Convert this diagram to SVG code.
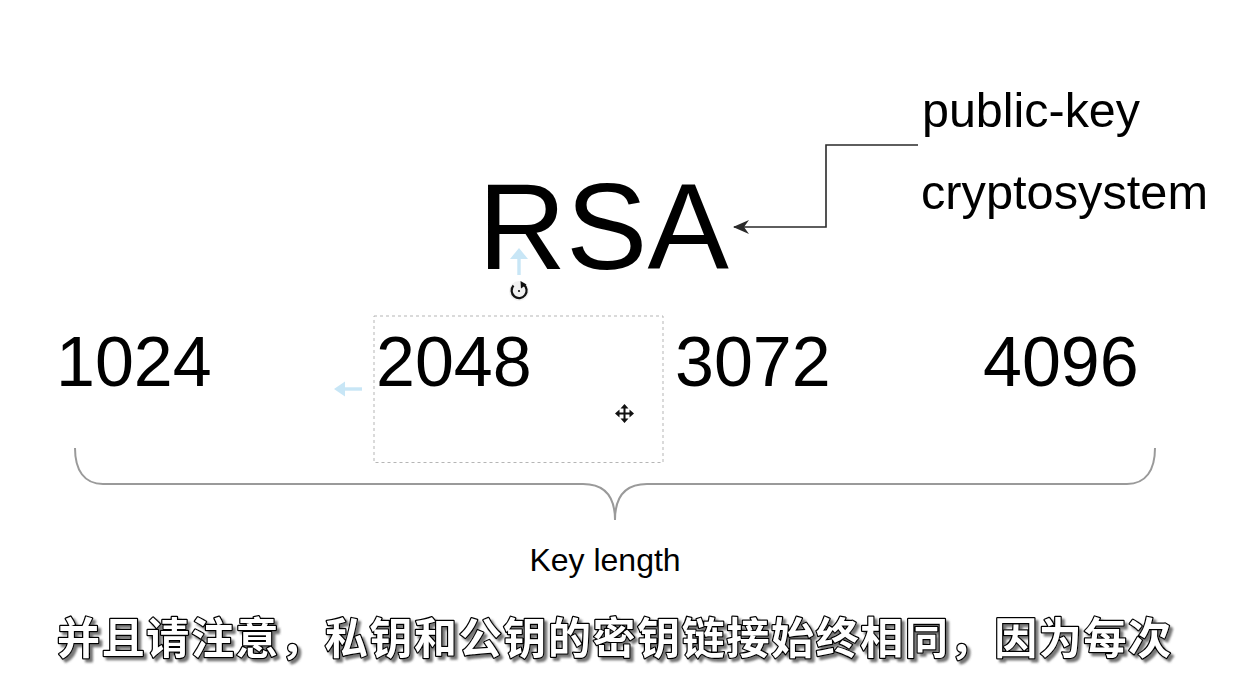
<svg xmlns="http://www.w3.org/2000/svg" width="1235" height="690" viewBox="0 0 1235 690">
  <style>
    .t { font-family: "Liberation Sans", Arial, Helvetica, sans-serif; fill: #000; }
    .num { font-size: 70px; }
    .conn { fill: none; stroke: #2a2a2a; stroke-width: 1.6; }
    .brace { fill: none; stroke: #9a9a9a; stroke-width: 2; }
    .hint { fill: #c8e6f6; }
    .sub { font-family: "Noto Sans CJK SC", "Noto Sans CJK TC", sans-serif; font-size: 43px; font-weight: 700; }
  </style>
  <defs>
    <marker id="stealth" viewBox="0 0 16 14" refX="15" refY="7" markerWidth="16" markerHeight="14" markerUnits="userSpaceOnUse" orient="auto">
      <path d="M0,0 L16,7 L0,14 L5,7 Z" fill="#2a2a2a"/>
    </marker>
    <filter id="shadow" x="-5%" y="-30%" width="110%" height="160%">
      <feDropShadow dx="3" dy="3" stdDeviation="1" flood-color="#555" flood-opacity="0.8"/>
    </filter>
  </defs>
  <rect width="1235" height="690" fill="#ffffff"/>

  <g id="rsa">
    <text class="t" x="478" y="269" font-size="122">RSA</text>
  </g>

  <g id="public-key-label">
    <text class="t" x="922" y="127" font-size="48" textLength="218" lengthAdjust="spacingAndGlyphs">public-key</text>
    <text class="t" x="921" y="209" font-size="48" textLength="287" lengthAdjust="spacingAndGlyphs">cryptosystem</text>
  </g>

  <g id="connectors">
    <path class="conn" d="M918,145 L826,145 L826,227 L734,227" marker-end="url(#stealth)"/>
  </g>

  <g id="key-1024">
    <text class="t num" x="56" y="386">1024</text>
  </g>
  <g id="key-2048">
    <rect x="374" y="316" width="289" height="146.5" fill="none" stroke="#b5b5b5" stroke-width="1" stroke-dasharray="3,3"/>
    <text class="t num" x="376" y="386">2048</text>
  </g>
  <g id="key-3072">
    <text class="t num" x="675" y="386">3072</text>
  </g>
  <g id="key-4096">
    <text class="t num" x="983" y="386">4096</text>
  </g>

  <g id="editor-handles">
    <rect class="hint" x="517.3" y="257" width="3.4" height="18"/>
    <path class="hint" d="M510,259 L519,248 L528,259 Z"/>
    <rect class="hint" x="344" y="387.3" width="18" height="3.4"/>
    <path class="hint" d="M345,381.5 L334,389 L345,396.5 Z"/>
    <circle cx="519" cy="291" r="10" fill="#e8e8e8" opacity="0.6"/>
    <path d="M523.5,284.5 A7.5,7.5 0 1 1 513.5,285.6" fill="none" stroke="#111" stroke-width="2.2"/>
    <path d="M520.5,281 L526.5,284.6 L521,288.5 Z" fill="#111"/>
    <circle cx="519" cy="291" r="1.1" fill="#111"/>
    <g id="move-cursor" fill="#111" stroke="#111">
      <path d="M624.5,406 V421 M617,413.5 H632" stroke-width="2" fill="none"/>
      <path d="M624.5,404 L620.5,408.5 L628.5,408.5 Z M624.5,423 L620.5,418.5 L628.5,418.5 Z M615,413.5 L619.5,409.5 L619.5,417.5 Z M634,413.5 L629.5,409.5 L629.5,417.5 Z" stroke="none"/>
    </g>
  </g>

  <g id="brace">
    <path class="brace" d="M75,448 C75,470 84,484 103,484 L583,484 C605,484 615,496 615,520 C615,496 625,484 647,484 L1127,484 C1146,484 1155,470 1155,448"/>
  </g>

  <g id="key-length">
    <text class="t" x="605" y="571" font-size="32" text-anchor="middle">Key length</text>
  </g>

  <g id="subtitle" filter="url(#shadow)">
    <text class="sub" x="57" y="654" textLength="1114" lengthAdjust="spacing" fill="#ffffff" stroke="#000" stroke-width="2.5" paint-order="stroke" stroke-linejoin="round">并且请注意，私钥和公钥的密钥链接始终相同，因为每次</text>
  </g>
</svg>
